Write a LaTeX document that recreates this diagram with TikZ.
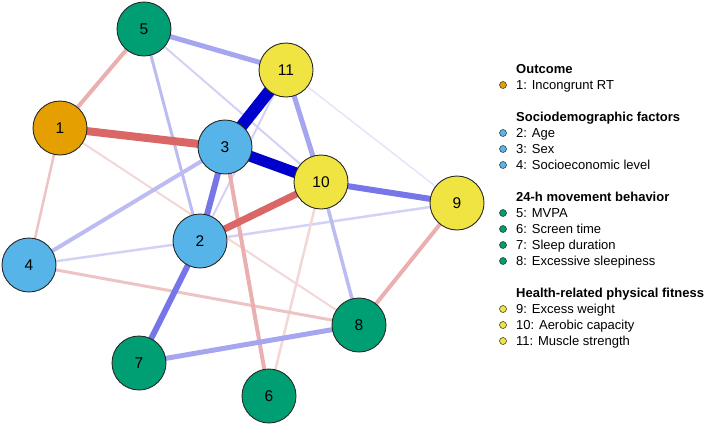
\documentclass[tikz,border=0pt]{standalone}
\usepackage{fontspec}
\setmainfont{Liberation Sans}
\pgfdeclarelayer{bg}
\pgfsetlayers{bg,main}
\definecolor{cOut}{RGB}{230,159,0}
\definecolor{cSoc}{RGB}{86,180,233}
\definecolor{cMov}{RGB}{0,158,115}
\definecolor{cFit}{RGB}{240,228,66}
\definecolor{bdr}{RGB}{40,40,40}
\definecolor{posA}{RGB}{0,0,205}
\definecolor{posB}{RGB}{118,118,232}
\definecolor{posC}{RGB}{165,165,240}
\definecolor{posD}{RGB}{188,188,243}
\definecolor{posE}{RGB}{210,210,247}
\definecolor{posF}{RGB}{228,228,251}
\definecolor{negA}{RGB}{218,102,102}
\definecolor{negB}{RGB}{234,175,175}
\definecolor{negC}{RGB}{238,195,195}
\definecolor{negD}{RGB}{243,215,215}
\tikzset{
  var/.style={circle, draw=bdr, line width=0.9pt, minimum size=54pt, inner sep=0pt,
              font=\fontsize{15.5}{18}\selectfont},
  ldot/.style={circle, draw=bdr, line width=0.5pt, minimum size=7pt, inner sep=0pt},
  ltext/.style={anchor=base west, inner sep=0pt, font=\fontsize{13}{15}\selectfont},
  lhead/.style={anchor=base west, inner sep=0pt, font=\fontsize{13}{15}\selectfont\bfseries},
  ew/.style={line width=#1pt},
}
\begin{document}
\begin{tikzpicture}[x=1pt,y=-1pt]
\useasboundingbox (0,0) rectangle (709,426);
% nodes
\node[var, fill=cOut] (n1) at (60,128) {1};
\node[var, fill=cSoc] (n2) at (200,241) {2};
\node[var, fill=cSoc] (n3) at (225,147) {3};
\node[var, fill=cSoc] (n4) at (29,265) {4};
\node[var, fill=cMov] (n5) at (144,29) {5};
\node[var, fill=cMov] (n6) at (269,396) {6};
\node[var, fill=cMov] (n7) at (139,363) {7};
\node[var, fill=cMov] (n8) at (359,325) {8};
\node[var, fill=cFit] (n9) at (457,203) {9};
\node[var, fill=cFit] (n10) at (321,182) {10};
\node[var, fill=cFit] (n11) at (286,70) {11};
% edges
\begin{pgfonlayer}{bg}
\draw[posF, ew=1.5] (n11.center) -- (n9.center);
\draw[posE, ew=2] (n11.center) -- (n7.center);
\draw[posE, ew=2.5] (n4.center) -- (n2.center);
\draw[posE, ew=2.5] (n2.center) -- (n9.center);
\draw[posE, ew=2] (n5.center) -- (n10.center);
\draw[negD, ew=2] (n1.center) -- (n8.center);
\draw[negD, ew=2.5] (n6.center) -- (n10.center);
\draw[negC, ew=2.5] (n1.center) -- (n4.center);
\draw[posD, ew=3] (n5.center) -- (n2.center);
\draw[posD, ew=3.5] (n10.center) -- (n8.center);
\draw[negC, ew=3] (n4.center) -- (n8.center);
\draw[posD, ew=4] (n4.center) -- (n3.center);
\draw[negB, ew=4] (n3.center) -- (n6.center);
\draw[negB, ew=4] (n8.center) -- (n9.center);
\draw[negB, ew=4] (n1.center) -- (n5.center);
\draw[posC, ew=5] (n10.center) -- (n11.center);
\draw[posC, ew=5] (n7.center) -- (n8.center);
\draw[posC, ew=5] (n5.center) -- (n11.center);
\draw[posB, ew=6] (n9.center) -- (n10.center);
\draw[posB, ew=6] (n2.center) -- (n7.center);
\draw[posB, ew=6] (n2.center) -- (n3.center);
\draw[negA, ew=7] (n2.center) -- (n10.center);
\draw[negA, ew=8] (n1.center) -- (n3.center);
\draw[posA, ew=11] (n3.center) -- (n10.center);
\draw[posA, ew=12] (n3.center) -- (n11.center);
\end{pgfonlayer}
% legend
\node[lhead] (h1) at (516,73.5) {Outcome};
\node[ldot, fill=cOut] (d1) at (503,85) {};
\node[ltext] (t1) at (516,89.5) {1: Incongrunt RT};
\node[lhead] (h2) at (516,121.5) {Sociodemographic factors};
\node[ldot, fill=cSoc] (d2) at (503,133) {};
\node[ltext] (t2) at (516,137.5) {2: Age};
\node[ldot, fill=cSoc] (d3) at (503,149) {};
\node[ltext] (t3) at (516,153.5) {3: Sex};
\node[ldot, fill=cSoc] (d4) at (503,165) {};
\node[ltext] (t4) at (516,169.5) {4: Socioeconomic level};
\node[lhead] (h3) at (516,201.5) {24-h movement behavior};
\node[ldot, fill=cMov] (d5) at (503,213) {};
\node[ltext] (t5) at (516,217.5) {5: MVPA};
\node[ldot, fill=cMov] (d6) at (503,229) {};
\node[ltext] (t6) at (516,233.5) {6: Screen time};
\node[ldot, fill=cMov] (d7) at (503,245) {};
\node[ltext] (t7) at (516,249.5) {7: Sleep duration};
\node[ldot, fill=cMov] (d8) at (503,261) {};
\node[ltext] (t8) at (516,265.5) {8: Excessive sleepiness};
\node[lhead] (h4) at (516,297.5) {Health-related physical fitness};
\node[ldot, fill=cFit] (d9) at (503,309) {};
\node[ltext] (t9) at (516,313.5) {9: Excess weight};
\node[ldot, fill=cFit] (d10) at (503,325) {};
\node[ltext] (t10) at (516,329.5) {10: Aerobic capacity};
\node[ldot, fill=cFit] (d11) at (503,341) {};
\node[ltext] (t11) at (516,345.5) {11: Muscle strength};
\end{tikzpicture}
\end{document}
